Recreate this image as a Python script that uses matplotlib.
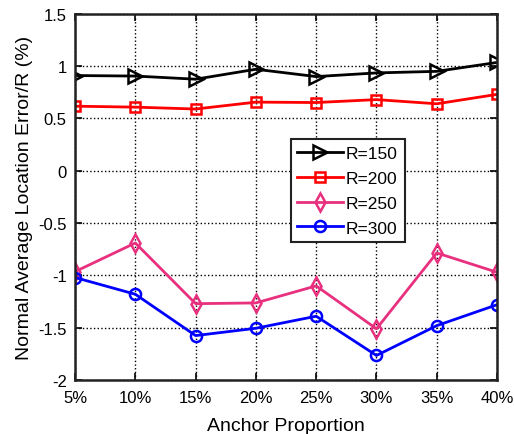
import matplotlib.pyplot as plt

plt.rcParams['font.family'] = ['Liberation Sans', 'DejaVu Sans']

# anchor proportion categories
proportions = ['5%', '10%', '15%', '20%', '25%', '30%', '35%', '40%']

# error values
r150 = [0.91, 0.905, 0.875, 0.97, 0.90, 0.935, 0.95, 1.035]
r200 = [0.617, 0.608, 0.59, 0.656, 0.652, 0.68, 0.64, 0.73]
r250 = [-0.964, -0.69, -1.27, -1.263, -1.10, -1.51, -0.785, -0.97]
r300 = [-1.02, -1.18, -1.575, -1.505, -1.39, -1.765, -1.48, -1.28]

y_ticks = [-2, -1.5, -1, -0.5, 0, 0.5, 1, 1.5]
y_labels = ['-2', '-1.5', '-1', '-0.5', '0', '0.5', '1', '1.5']

fig = plt.figure(figsize=(5.14, 4.35), dpi=100)
ax = fig.add_axes([0.146, 0.124, 0.821, 0.842])

x = range(len(proportions))
ax.plot(x, r150, marker='>', color='black', lw=2, ms=10, mfc='none', mew=1.8, label='R=150')
ax.plot(x, r200, marker='s', color='red', lw=2, ms=7, mfc='none', mew=1.8, label='R=200')
ax.plot(x, r250, marker='d', color='#E8307E', lw=2, ms=9, mfc='none', mew=1.8, label='R=250')
ax.plot(x, r300, marker='o', color='blue', lw=2, ms=8, mfc='none', mew=1.8, label='R=300')

ax.set_xlim(0, len(proportions) - 1)
ax.set_ylim(-2, 1.5)
ax.set_xticks(list(x))
ax.set_xticklabels(proportions)
ax.set_yticks(y_ticks)
ax.set_yticklabels(y_labels)
ax.tick_params(direction='in', top=True, right=True, labelsize=12, width=1.2, length=5)
ax.tick_params(axis='x', pad=7)
ax.tick_params(axis='y', pad=6)
ax.grid(True, color='black', linestyle=':', linewidth=1)
for s in ax.spines.values():
    s.set_linewidth(1.8)
    s.set_color('#222222')

ax.set_xlabel('Anchor Proportion', fontsize=14, labelpad=9)
ax.set_ylabel('Normal Average Location Error/R (%)', fontsize=14, labelpad=4)

leg = ax.legend(loc='upper left', bbox_to_anchor=(0.49, 0.681), fontsize=12.5,
                fancybox=False, edgecolor='#222222', framealpha=1,
                handlelength=2.6, handletextpad=0.2, borderpad=0.4, labelspacing=0.55)
leg.get_frame().set_linewidth(1.5)

plt.savefig('out.png', dpi=100)
